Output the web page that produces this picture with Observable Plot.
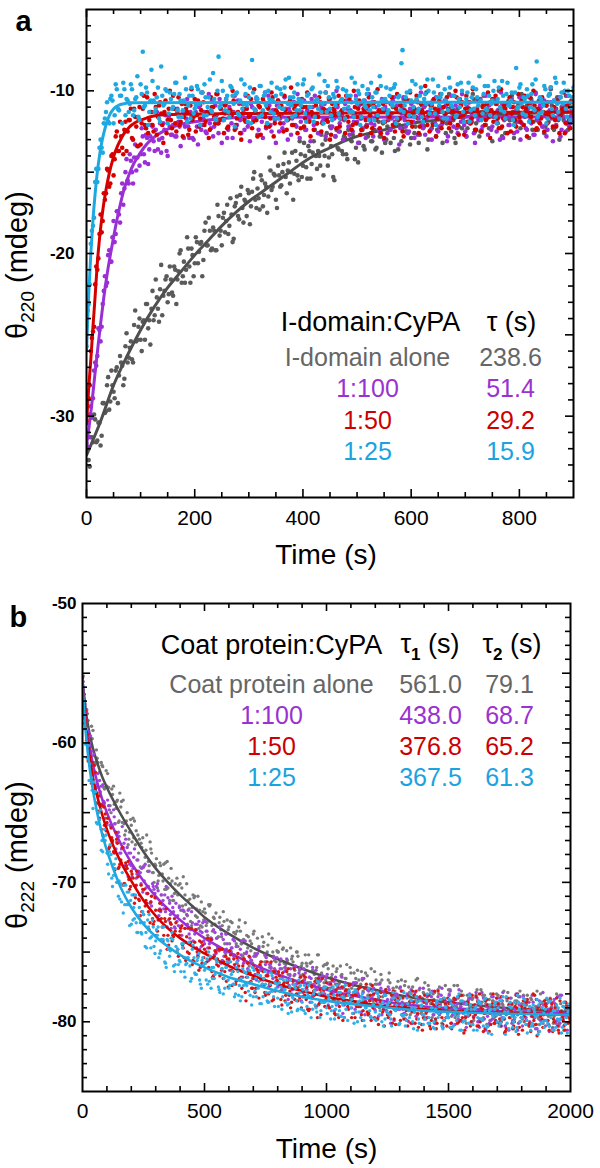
<!DOCTYPE html>
<html><head><meta charset="utf-8">
<script src="https://cdn.jsdelivr.net/npm/d3@7"></script>
<script src="https://cdn.jsdelivr.net/npm/@observablehq/plot@0.6"></script>
<style>
body{margin:0;background:#fff;}
#wrap{width:600px;height:1168px;overflow:hidden;}
#wrap svg{display:block;}
</style></head><body><div id="wrap"></div>
<script>
// ---------- Panel a data (time in s, theta220 in mdeg) ----------
const tA = [0,4,8,12,16,20,24,28,32,36,40,44,48,52,56,60,64,68,72,76,80,84,88,92,96,100,104,108,112,116,
120,124,128,132,136,140,144,148,152,156,160,164,168,172,176,180,184,188,192,196,200,204,208,212,216,220,224,228,232,236,
240,244,248,252,256,260,264,268,272,276,280,284,288,292,296,300,304,308,312,316,320,324,328,332,336,340,344,348,352,356,
360,364,368,372,376,380,384,388,392,396,400,404,408,412,416,420,424,428,432,436,440,444,448,452,456,460,464,468,472,476,
480,484,488,492,496,500,504,508,512,516,520,524,528,532,536,540,544,548,552,556,560,564,568,572,576,580,584,588,592,596,
600,604,608,612,616,620,624,628,632,636,640,644,648,652,656,660,664,668,672,676,680,684,688,692,696,700,704,708,712,716,
720,724,728,732,736,740,744,748,752,756,760,764,768,772,776,780,784,788,792,796,800,804,808,812,816,820,824,828,832,836,
840,844,848,852,856,860,864,868,872,876,880,884,888,892,896,900];
const tA2 = [2,6,10,14,18,22,26,30,34,38,42,46,50,54,58,62,66,70,74,78,82,86,90,94,98,102,106,110,114,118,
122,126,130,134,138,142,146,150,154,158,162,166,170,174,178,182,186,190,194,198,202,206,210,214,218,222,226,230,234,238,
242,246,250,254,258,262,266,270,274,278,282,286,290,294,298,302,306,310,314,318,322,326,330,334,338,342,346,350,354,358,
362,366,370,374,378,382,386,390,394,398,402,406,410,414,418,422,426,430,434,438,442,446,450,454,458,462,466,470,474,478,
482,486,490,494,498,502,506,510,514,518,522,526,530,534,538,542,546,550,554,558,562,566,570,574,578,582,586,590,594,598,
602,606,610,614,618,622,626,630,634,638,642,646,650,654,658,662,666,670,674,678,682,686,690,694,698,702,706,710,714,718,
722,726,730,734,738,742,746,750,754,758,762,766,770,774,778,782,786,790,794,798,802,806,810,814,818,822,826,830,834,838,
842,846,850,854,858,862,866,870,874,878,882,886,890,894,898];
const grayA = [-32.1,-32.7,-31.3,-31.6,-30.2,-31.5,-30.4,-31.2,-29.2,-29.7,-27.6,-29.1,-28.1,-28.9,-27.0,-27.5,-26.7,-28.1,-25.7,-26.7,
-25.8,-26.5,-24.4,-25.4,-24.5,-25.3,-24.2,-25.3,-23.1,-24.1,-23.4,-24.1,-21.6,-23.4,-22.2,-23.8,-22.3,-21.4,-22.5,-21.6,
-22.6,-21.0,-21.6,-20.0,-21.8,-20.5,-21.0,-19.7,-21.8,-20.1,-20.6,-19.3,-19.9,-19.3,-20.4,-18.1,-19.5,-18.6,-19.7,-18.6,
-19.8,-17.7,-18.6,-17.8,-18.7,-17.0,-18.3,-17.6,-19.1,-16.9,-17.7,-16.4,-17.2,-16.7,-17.7,-16.3,-17.1,-15.4,-16.7,-16.0,
-17.3,-15.5,-16.4,-15.9,-16.5,-14.9,-15.9,-15.2,-17.2,-15.2,-15.8,-14.5,-15.3,-14.9,-15.7,-13.8,-15.1,-14.3,-15.5,-13.9,
-14.6,-14.0,-15.4,-13.7,-14.5,-13.1,-14.0,-13.7,-14.6,-13.3,-14.0,-12.6,-14.1,-13.4,-15.3,-12.8,-13.5,-12.5,-13.7,-12.8,
-13.9,-12.4,-13.0,-12.7,-14.2,-12.0,-13.2,-12.4,-13.4,-12.2,-12.8,-11.5,-13.1,-12.4,-13.5,-11.9,-12.8,-12.0,-13.2,-12.2,
-12.4,-11.4,-12.9,-11.9,-13.6,-11.7,-12.3,-11.4,-12.5,-11.9,-12.9,-11.4,-12.2,-11.7,-12.7,-10.9,-12.2,-11.7,-13.0,-11.4,
-12.0,-11.4,-12.4,-11.0,-12.1,-11.7,-12.6,-11.1,-11.9,-11.4,-12.9,-11.3,-12.2,-10.7,-11.7,-11.4,-12.3,-11.1,-11.9,-10.5,
-12.0,-11.5,-12.5,-10.9,-11.7,-11.1,-12.3,-11.2,-11.6,-10.8,-12.0,-11.3,-12.8,-11.0,-11.7,-10.6,-11.8,-11.3,-12.0,-11.0,
-11.7,-10.2,-12.1,-11.2,-11.5,-10.9,-12.4,-11.1,-11.8,-10.6,-11.6,-11.3,-12.2,-10.7,-11.6,-10.9,-12.4,-11.1,-11.8,-10.4,
-11.4,-11.0,-12.0,-10.8,-11.5,-10.0];
const grayA2 = [-31.3,-33.1,-31.3,-29.9,-31.6,-30.4,-31.8,-29.2,-29.8,-28.1,-29.6,-27.2,-28.5,-27.2,-29.2,-26.3,-26.9,-27.7,-24.9,-26.4,
-25.4,-26.7,-23.5,-25.3,-24.0,-26.0,-24.1,-23.1,-24.6,-25.6,-22.3,-23.8,-22.7,-24.2,-20.7,-22.6,-21.6,-23.0,-20.8,-22.4,
-20.8,-23.1,-21.1,-19.8,-21.4,-21.8,-19.0,-20.8,-19.7,-21.4,-19.0,-20.6,-19.4,-21.4,-18.6,-19.5,-17.8,-19.8,-18.4,-19.8,
-17.0,-18.9,-19.5,-17.5,-18.0,-18.8,-16.6,-19.3,-17.1,-16.5,-17.9,-15.9,-18.1,-16.8,-16.1,-18.2,-16.2,-15.0,-17.2,-16.6,
-15.2,-17.1,-15.7,-17.5,-14.1,-16.1,-15.1,-16.7,-14.6,-15.9,-15.0,-13.8,-16.3,-14.4,-15.0,-16.7,-13.7,-15.2,-13.1,-15.3,
-13.2,-14.7,-13.4,-15.4,-13.8,-12.4,-14.8,-14.0,-12.7,-15.2,-13.0,-14.6,-12.2,-13.9,-15.5,-12.4,-13.6,-11.7,-13.9,-12.9,
-14.2,-12.2,-13.1,-11.5,-13.5,-14.4,-11.7,-12.4,-13.6,-12.1,-10.9,-13.1,-12.4,-13.6,-11.6,-12.8,-13.8,-11.2,-13.0,-11.8,
-13.2,-11.0,-13.7,-11.8,-12.1,-13.1,-10.5,-12.5,-11.3,-13.3,-11.3,-12.6,-10.6,-13.2,-11.6,-12.1,-10.9,-13.6,-11.4,-12.3,
-10.6,-12.8,-11.6,-11.0,-13.2,-11.4,-12.0,-10.2,-12.5,-11.8,-13.2,-11.1,-10.5,-12.3,-11.3,-12.8,-10.7,-11.8,-10.2,-12.5,
-11.1,-12.8,-11.3,-10.3,-12.1,-11.6,-10.7,-13.1,-10.5,-11.9,-10.0,-12.3,-11.2,-12.6,-10.8,-11.8,-10.3,-12.9,-11.3,-10.8,
-12.3,-10.3,-11.6,-10.9,-12.9,-10.5,-11.9,-10.1,-12.4,-11.2,-10.6,-12.6,-10.9,-11.9,-9.9,-12.3,-11.2,-10.4,-13.0,-11.0,
-11.8,-10.3,-12.4,-10.7,-11.6];
const purpleA = [-31.7,-31.3,-29.4,-28.9,-26.7,-26.3,-24.7,-24.5,-22.3,-22.0,-20.1,-20.5,-19.0,-19.3,-17.4,-17.6,-16.3,-17.0,-15.0,-15.5,
-13.9,-15.0,-14.1,-14.9,-13.4,-13.9,-12.8,-14.4,-12.9,-13.6,-12.1,-13.1,-12.4,-13.6,-12.0,-12.9,-12.4,-13.7,-11.6,-12.7,
-12.1,-12.8,-11.1,-12.2,-11.6,-12.9,-11.7,-12.2,-11.3,-12.9,-11.5,-12.2,-11.0,-12.4,-11.7,-12.5,-11.3,-12.0,-10.6,-12.2,
-11.5,-12.6,-11.1,-11.8,-11.4,-12.9,-11.0,-12.0,-11.3,-12.3,-10.6,-11.8,-11.5,-12.4,-11.1,-12.0,-10.8,-11.7,-11.3,-12.7,
-11.0,-11.9,-11.4,-12.3,-10.3,-12.1,-11.2,-11.8,-10.9,-12.5,-11.5,-12.0,-11.1,-13.0,-11.3,-11.7,-10.7,-12.2,-11.4,-11.9,
-11.0,-12.4,-11.2,-11.8,-10.5,-12.1,-11.5,-12.6,-11.1,-11.9,-10.8,-11.7,-11.3,-12.3,-11.4,-12.8,-11.0,-12.0,-11.5,-11.8,
-10.6,-12.2,-11.2,-12.5,-11.4,-11.9,-10.9,-11.7,-11.3,-12.9,-11.1,-11.8,-10.7,-12.1,-11.5,-12.4,-11.2,-11.9,-11.0,-12.6,
-11.4,-11.7,-10.4,-12.0,-11.3,-12.3,-11.1,-11.8,-11.5,-12.5,-10.8,-11.9,-11.2,-12.7,-11.4,-12.1,-11.0,-11.7,-11.3,-12.4,
-10.6,-12.0,-11.5,-12.2,-11.1,-11.8,-10.9,-12.8,-11.3,-11.7,-11.2,-12.3,-10.7,-11.9,-11.4,-12.5,-11.0,-12.0,-11.5,-12.6,
-11.1,-11.8,-10.5,-12.2,-11.3,-11.7,-10.9,-12.4,-11.4,-11.9,-11.2,-13.0,-10.8,-11.8,-11.5,-12.1,-11.0,-11.7,-11.3,-12.5,
-10.4,-12.0,-11.4,-12.3,-11.1,-11.8,-10.7,-12.7,-11.3,-11.9,-11.0,-12.2,-11.5,-12.4,-11.2,-11.7,-10.6,-12.1,-11.4,-12.8,
-10.9,-11.9,-11.3,-12.2,-11.1,-11.8];
const purpleA2 = [-31.9,-29.9,-30.1,-27.2,-26.9,-24.6,-25.4,-23.1,-21.4,-21.8,-19.8,-20.5,-18.0,-18.8,-17.4,-18.1,-15.7,-16.0,-14.2,-15.7,
-14.3,-15.7,-13.3,-14.1,-14.6,-12.3,-13.9,-12.7,-14.5,-12.8,-12.2,-13.7,-11.3,-13.0,-13.8,-12.0,-11.5,-14.0,-12.2,-12.7,
-11.1,-12.8,-11.9,-13.4,-11.3,-12.2,-10.5,-12.9,-11.6,-13.0,-11.3,-13.3,-10.9,-12.1,-11.3,-12.6,-10.2,-12.3,-12.8,-10.9,
-12.0,-10.5,-13.2,-11.3,-10.8,-12.4,-11.6,-12.9,-10.3,-12.1,-10.8,-12.6,-11.3,-10.3,-12.2,-13.1,-11.0,-11.8,-10.5,-12.4,
-11.4,-12.9,-10.1,-12.0,-10.9,-12.5,-11.2,-13.2,-10.6,-11.7,-12.3,-10.4,-11.8,-11.1,-12.7,-10.7,-12.1,-10.2,-12.9,-11.3,
-10.6,-12.4,-11.5,-13.1,-11.0,-10.3,-12.0,-12.6,-10.9,-11.8,-12.8,-11.2,-10.5,-12.2,-11.7,-10.0,-12.5,-11.3,-13.0,-10.8,
-11.1,-12.7,-10.7,-11.9,-10.3,-13.2,-11.4,-12.3,-10.6,-12.1,-10.2,-12.0,-12.8,-11.0,-11.5,-12.5,-10.5,-13.0,-11.2,-11.7,
-12.4,-10.6,-11.9,-10.9,-13.3,-11.4,-10.4,-12.2,-12.6,-11.1,-10.7,-12.9,-11.2,-11.7,-10.1,-12.3,-12.7,-11.3,-10.8,-13.0,
-11.5,-10.4,-12.5,-11.1,-12.0,-10.6,-13.1,-11.8,-10.3,-12.2,-10.9,-12.6,-11.4,-10.2,-12.1,-12.8,-10.7,-11.9,-11.2,-13.2,
-10.5,-11.8,-12.4,-11.0,-10.3,-12.7,-11.5,-12.2,-10.6,-12.5,-11.3,-10.1,-12.9,-11.7,-10.8,-12.1,-10.5,-12.6,-11.2,-11.9,
-13.0,-11.0,-11.4,-12.4,-10.4,-12.0,-12.7,-10.2,-11.8,-10.9,-12.2,-10.6,-12.8,-11.3,-10.7,-13.1,-11.1,-11.7,-10.4,-12.4,
-11.2,-12.5,-10.3,-12.0,-11.4];
const redA = [-30.3,-28.9,-26.0,-24.8,-21.9,-21.0,-18.8,-18.7,-16.3,-16.3,-14.9,-15.7,-13.9,-14.2,-12.5,-13.7,-12.8,-13.9,-11.9,-12.5,
-11.8,-12.9,-11.1,-12.2,-11.7,-13.3,-11.1,-12.1,-10.4,-11.8,-11.3,-12.5,-11.0,-11.6,-10.7,-12.1,-11.3,-12.6,-11.1,-11.8,
-10.3,-12.0,-11.3,-12.1,-10.8,-11.6,-11.1,-12.7,-10.9,-11.8,-10.5,-11.5,-12.2,-11.2,-10.7,-11.9,-11.3,-12.4,-11.0,-11.6,
-10.2,-12.0,-11.1,-11.7,-10.9,-12.3,-11.2,-11.5,-10.6,-12.1,-11.3,-12.6,-10.8,-11.8,-11.1,-11.6,-10.5,-11.9,-11.2,-12.8,
-11.0,-11.5,-10.7,-12.2,-11.1,-11.7,-10.4,-12.0,-11.3,-11.6,-10.9,-12.5,-11.2,-11.8,-10.6,-12.1,-11.1,-11.5,-10.8,-12.3,
-11.0,-11.7,-10.1,-11.9,-11.3,-12.4,-10.9,-11.6,-10.7,-12.0,-11.2,-11.8,-10.5,-12.7,-11.1,-11.5,-10.8,-12.2,-11.2,-11.7,
-10.3,-11.9,-11.3,-12.1,-11.0,-11.6,-10.6,-12.4,-11.1,-11.8,-10.9,-11.5,-12.3,-10.7,-11.7,-11.2,-12.6,-10.8,-11.9,-11.3,
-11.6,-10.4,-12.1,-11.1,-11.8,-10.9,-12.5,-11.2,-11.5,-10.6,-11.9,-11.0,-11.6,-10.7,-12.2,-11.2,-11.8,-10.1,-11.5,-10.9,
-12.1,-11.1,-11.7,-10.6,-12.3,-11.0,-11.4,-10.8,-12.0,-11.2,-11.6,-10.4,-12.7,-10.9,-11.5,-11.1,-11.9,-10.7,-11.7,-11.2,
-12.4,-10.5,-11.5,-11.0,-12.1,-10.8,-11.6,-11.2,-11.9,-10.3,-11.7,-11.1,-12.2,-10.9,-11.4,-10.7,-12.5,-11.0,-11.8,-11.2,
-11.6,-10.6,-12.1,-11.1,-11.5,-10.4,-11.9,-10.9,-12.3,-11.2,-11.7,-10.8,-11.4,-12.0,-10.2,-11.6,-11.0,-12.2,-10.7,-11.5,
-11.1,-12.6,-10.9,-11.8,-10.6,-11.4];
const redA2 = [-28.9,-28.1,-25.2,-24.5,-20.8,-20.3,-17.6,-18.0,-16.7,-14.8,-15.9,-14.0,-15.2,-12.8,-13.7,-11.9,-13.5,-12.4,-13.7,-11.8,
-11.1,-13.0,-11.6,-13.4,-11.0,-12.0,-10.3,-12.3,-12.6,-11.3,-12.1,-10.2,-12.7,-10.9,-11.4,-13.2,-10.6,-11.8,-10.0,-12.3,
-11.1,-12.5,-10.4,-11.9,-12.8,-10.8,-11.3,-12.4,-9.9,-11.6,-12.5,-10.6,-11.7,-10.1,-12.1,-11.3,-12.9,-10.4,-11.0,-12.0,
-10.2,-11.8,-10.8,-12.6,-10.5,-12.2,-11.2,-10.0,-12.4,-11.7,-10.7,-13.0,-11.1,-11.9,-10.3,-11.5,-12.3,-9.9,-11.8,-10.9,
-12.7,-10.5,-11.6,-11.0,-12.2,-10.1,-12.8,-11.2,-10.6,-12.0,-11.1,-10.3,-12.4,-11.7,-9.8,-12.1,-10.9,-12.6,-11.3,-10.5,
-12.2,-11.0,-10.2,-12.8,-11.5,-10.7,-12.0,-10.4,-12.5,-11.1,-10.1,-11.9,-13.0,-10.8,-11.2,-12.3,-10.3,-11.7,-10.6,-12.6,
-11.6,-10.5,-12.4,-10.0,-12.0,-11.1,-12.7,-10.8,-11.3,-12.2,-10.4,-12.6,-10.9,-11.8,-9.9,-12.3,-11.2,-12.9,-10.7,-11.5,
-10.8,-12.1,-12.5,-10.2,-11.7,-10.9,-12.8,-10.5,-11.9,-10.1,-12.2,-11.1,-10.3,-12.6,-10.8,-11.5,-9.7,-12.1,-12.5,-10.9,
-10.5,-12.8,-11.2,-10.2,-11.9,-11.4,-10.4,-12.3,-11.0,-11.7,-10.0,-12.1,-11.6,-10.7,-12.7,-10.3,-11.1,-12.0,-9.9,-12.4,
-11.2,-10.6,-12.5,-10.9,-11.8,-10.1,-12.9,-10.5,-11.5,-10.8,-12.3,-9.9,-11.7,-11.1,-12.6,-10.4,-11.4,-10.7,-12.2,-10.2,
-11.9,-11.0,-10.3,-12.8,-10.8,-11.6,-10.0,-12.4,-11.1,-12.0,-10.4,-12.5,-10.9,-11.5,-9.8,-12.2,-11.8,-10.6,-12.6,-11.2,
-10.1,-12.0,-11.0,-12.3,-10.7];
const cyanA = [-25.7,-23.1,-19.4,-18.3,-15.6,-15.6,-13.5,-13.5,-12.0,-11.3,-11.9,-10.5,-10.6,-11.5,-9.9,-11.2,-10.3,-9.5,-11.5,-10.6,
-10.8,-9.9,-11.2,-10.4,-11.6,-9.6,-7.6,-10.9,-10.1,-11.3,-8.7,-10.6,-11.1,-9.8,-11.9,-10.3,-10.8,-10.0,-11.4,-10.5,
-11.0,-9.5,-11.2,-10.2,-11.6,-10.6,-9.9,-10.9,-11.7,-10.3,-11.1,-9.7,-10.8,-10.1,-11.5,-10.4,-11.0,-9.3,-11.3,-10.5,
-11.8,-7.9,-10.9,-10.0,-11.2,-10.3,-11.6,-9.8,-10.8,-10.2,-11.4,-10.6,-11.1,-9.6,-10.9,-10.4,-12.0,-10.1,-11.2,-10.5,
-9.7,-11.5,-10.3,-10.9,-10.0,-11.3,-10.6,-11.7,-9.8,-11.0,-10.2,-11.1,-9.3,-10.8,-10.4,-11.6,-10.1,-11.2,-10.5,-10.9,
-9.6,-11.4,-10.3,-11.0,-9.9,-11.9,-10.6,-11.1,-10.1,-10.8,-9.4,-11.3,-10.4,-11.5,-10.2,-10.9,-9.8,-11.7,-10.5,-11.1,
-10.0,-11.0,-10.3,-11.3,-9.5,-10.8,-10.2,-11.6,-10.6,-11.0,-9.9,-11.2,-10.4,-11.8,-10.1,-10.9,-9.7,-11.1,-10.5,-11.4,
-10.3,-10.8,-9.8,-12.0,-10.4,-11.2,-7.5,-10.9,-10.1,-11.5,-10.6,-11.0,-9.6,-11.3,-10.3,-11.6,-10.5,-10.8,-10.0,-11.1,
-9.3,-11.4,-10.4,-10.9,-10.2,-11.7,-10.6,-11.2,-9.8,-11.0,-10.3,-11.5,-10.5,-9.5,-11.3,-10.8,-10.1,-11.9,-10.4,-11.1,
-9.9,-10.9,-10.6,-11.4,-9.7,-11.2,-10.3,-10.8,-10.0,-11.6,-10.5,-11.0,-9.4,-11.3,-10.2,-10.9,-10.6,-11.8,-10.1,-11.1,
-9.8,-10.8,-10.4,-11.5,-10.3,-11.0,-9.6,-11.2,-8.2,-11.4,-10.5,-10.9,-9.9,-11.7,-10.2,-11.1,-10.6,-9.5,-11.3,-10.4,
-10.8,-10.0,-11.6,-10.3,-11.0,-9.8];
const cyanA2 = [-23.5,-21.9,-18.6,-17.8,-14.8,-14.8,-13.0,-13.8,-11.7,-10.7,-12.0,-10.3,-12.0,-9.6,-11.1,-10.3,-12.0,-9.9,-10.5,-11.3,
-9.6,-11.5,-10.5,-9.1,-11.8,-10.2,-11.0,-9.8,-12.1,-10.6,-9.4,-11.3,-10.4,-11.7,-8.5,-10.9,-9.9,-12.0,-10.1,-11.1,
-10.2,-9.5,-11.6,-10.6,-11.2,-9.2,-11.9,-10.3,-9.8,-11.4,-10.9,-9.9,-12.1,-10.1,-9.6,-11.5,-10.4,-11.2,-8.9,-11.7,
-10.0,-11.0,-9.4,-11.8,-10.5,-11.3,-9.7,-10.3,-12.2,-10.1,-11.5,-9.3,-10.8,-10.2,-11.9,-9.8,-8.1,-11.1,-10.4,-11.6,
-9.7,-11.2,-10.1,-12.0,-10.5,-9.5,-11.4,-10.3,-11.7,-9.9,-11.1,-9.8,-11.8,-9.2,-10.9,-10.4,-11.5,-9.6,-11.2,-10.6,
-9.3,-11.9,-10.2,-11.0,-9.8,-11.6,-10.5,-9.0,-11.3,-12.0,-10.1,-9.7,-11.1,-11.8,-10.4,-9.4,-11.4,-10.6,-9.9,-11.7,
-10.3,-11.3,-9.2,-11.6,-10.5,-10.0,-12.1,-9.7,-10.9,-10.2,-11.8,-9.5,-11.0,-10.1,-11.5,-9.1,-10.6,-11.9,-9.8,-11.2,
-9.9,-10.9,-9.6,-11.7,-10.3,-8.3,-11.3,-10.4,-12.0,-10.0,-9.4,-11.6,-10.5,-11.1,-9.8,-11.9,-10.2,-9.3,-11.4,-10.8,
-10.1,-12.1,-9.7,-10.4,-11.3,-9.9,-11.7,-9.2,-10.9,-10.3,-11.6,-9.6,-11.0,-10.0,-11.9,-10.5,-9.5,-11.2,-9.8,-11.5,
-10.4,-9.1,-11.8,-10.2,-11.1,-9.7,-11.5,-10.6,-9.4,-12.0,-9.8,-11.2,-10.3,-11.7,-9.5,-10.9,-10.1,-12.1,-8.6,-11.0,
-9.6,-11.4,-10.5,-9.9,-11.9,-10.2,-11.1,-9.3,-11.6,-10.4,-11.3,-9.7,-12.0,-10.3,-9.8,-11.5,-9.2,-10.8,-11.7,-10.1,
-9.5,-11.1,-10.0,-11.8,-10.4];
// fitted curves, panel a
const grayFitAT = [0,25,50,75,100,125,150,175,200,225,250,275,300,325,350,375,400,425,450,475,500,550,600,650,700,750,800,850,900];
const grayFitAV = [-32.4,-30.4,-28.1,-26.3,-24.7,-23.3,-22.1,-21.1,-20.1,-19.2,-18.3,-17.5,-16.8,-16.2,-15.6,-15.0,-14.4,-13.9,-13.5,-13.1,-12.8,-12.4,-12.0,-11.8,-11.6,-11.5,-11.4,-11.35,-11.3];
const purpleFitAT = [0,5,10,15,20,25,32,38,44,50,57,63,69,78,87,96,106,118,131,150,175,200,250,300,900];
const purpleFitAV = [-31.8,-30.6,-29.2,-27.6,-26.1,-24.6,-22.7,-21.3,-20.1,-19.0,-17.8,-16.9,-16.1,-15.2,-14.5,-14.0,-13.5,-13.05,-12.7,-12.35,-12.05,-11.9,-11.7,-11.62,-11.6];
const redFitAT = [0,4,8,12,16,20,24,28,32,36,40,44,48,52,56,60,64,68,72,76,80,88,96,104,112,120,132,160,250,900];
const redFitAV = [-30.5,-28.3,-26.5,-24.5,-22.6,-20.6,-19.1,-17.9,-16.9,-16.1,-15.4,-14.8,-14.3,-13.85,-13.5,-13.2,-12.95,-12.7,-12.5,-12.35,-12.2,-12.0,-11.85,-11.75,-11.66,-11.58,-11.5,-11.45,-11.4,-11.3];
const cyanFitAT = [0,4,8,12,16,20,24,28,32,36,40,44,48,52,56,60,68,80,900];
const cyanFitAV = [-26.0,-22.6,-20.0,-17.9,-16.3,-15.0,-14.0,-13.2,-12.6,-12.1,-11.7,-11.4,-11.2,-11.05,-10.95,-10.88,-10.8,-10.73,-10.7];

// ---------- Panel b data (time in s, theta222 in mdeg) ----------
const tB = [0,10,20,30,40,50,60,70,80,90,100,110,120,130,140,150,160,170,180,190,200,210,220,230,240,250,260,270,280,290,
300,310,320,330,340,350,360,370,380,390,400,410,420,430,440,450,460,470,480,490,500,510,520,530,540,550,560,570,580,590,
600,610,620,630,640,650,660,670,680,690,700,710,720,730,740,750,760,770,780,790,800,810,820,830,840,850,860,870,880,890,
900,910,920,930,940,950,960,970,980,990,1000,1010,1020,1030,1040,1050,1060,1070,1080,1090,1100,1110,1120,1130,1140,1150,1160,1170,1180,1190,
1200,1210,1220,1230,1240,1250,1260,1270,1280,1290,1300,1310,1320,1330,1340,1350,1360,1370,1380,1390,1400,1410,1420,1430,1440,1450,1460,1470,1480,1490,
1500,1510,1520,1530,1540,1550,1560,1570,1580,1590,1600,1610,1620,1630,1640,1650,1660,1670,1680,1690,1700,1710,1720,1730,1740,1750,1760,1770,1780,1790,
1800,1810,1820,1830,1840,1850,1860,1870,1880,1890,1900,1910,1920,1930,1940,1950,1960,1970,1980,1990,2000];
const tB2 = [3,13,23,33,43,53,63,73,83,93,103,113,123,133,143,153,163,173,183,193,203,213,223,233,243,253,263,273,283,293,
303,313,323,333,343,353,363,373,383,393,403,413,423,433,443,453,463,473,483,493,503,513,523,533,543,553,563,573,583,593,
603,613,623,633,643,653,663,673,683,693,703,713,723,733,743,753,763,773,783,793,803,813,823,833,843,853,863,873,883,893,
903,913,923,933,943,953,963,973,983,993,1003,1013,1023,1033,1043,1053,1063,1073,1083,1093,1103,1113,1123,1133,1143,1153,1163,1173,1183,1193,
1203,1213,1223,1233,1243,1253,1263,1273,1283,1293,1303,1313,1323,1333,1343,1353,1363,1373,1383,1393,1403,1413,1423,1433,1443,1453,1463,1473,1483,1493,
1503,1513,1523,1533,1543,1553,1563,1573,1583,1593,1603,1613,1623,1633,1643,1653,1663,1673,1683,1693,1703,1713,1723,1733,1743,1753,1763,1773,1783,1793,
1803,1813,1823,1833,1843,1853,1863,1873,1883,1893,1903,1913,1923,1933,1943,1953,1963,1973,1983,1993];
const tB3 = [7,17,27,37,47,57,67,77,87,97,107,117,127,137,147,157,167,177,187,197,207,217,227,237,247,257,267,277,287,297,
307,317,327,337,347,357,367,377,387,397,407,417,427,437,447,457,467,477,487,497,507,517,527,537,547,557,567,577,587,597,
607,617,627,637,647,657,667,677,687,697,707,717,727,737,747,757,767,777,787,797,807,817,827,837,847,857,867,877,887,897,
907,917,927,937,947,957,967,977,987,997,1007,1017,1027,1037,1047,1057,1067,1077,1087,1097,1107,1117,1127,1137,1147,1157,1167,1177,1187,1197,
1207,1217,1227,1237,1247,1257,1267,1277,1287,1297,1307,1317,1327,1337,1347,1357,1367,1377,1387,1397,1407,1417,1427,1437,1447,1457,1467,1477,1487,1497,
1507,1517,1527,1537,1547,1557,1567,1577,1587,1597,1607,1617,1627,1637,1647,1657,1667,1677,1687,1697,1707,1717,1727,1737,1747,1757,1767,1777,1787,1797,
1807,1817,1827,1837,1847,1857,1867,1877,1887,1897,1907,1917,1927,1937,1947,1957,1967,1977,1987,1997];
const grayB = [-55.4,-57.6,-57.9,-59.7,-59.7,-61.4,-61.1,-62.1,-61.6,-63.3,-63.1,-64.5,-63.3,-64.4,-64.2,-65.6,-64.2,-65.8,-65.6,-66.9,
-65.9,-66.8,-66.3,-67.9,-67.2,-68.9,-67.7,-68.5,-67.6,-69.3,-68.8,-69.9,-68.8,-69.9,-68.6,-70.4,-70.1,-71.3,-70.1,-70.9,
-70.1,-71.7,-70.9,-72.4,-71.2,-71.8,-71.0,-72.5,-72.0,-73.2,-71.9,-72.9,-71.7,-73.1,-72.6,-74.0,-72.9,-73.9,-72.8,-73.7,
-73.2,-75.0,-73.6,-74.4,-73.2,-74.4,-74.1,-75.1,-73.9,-74.9,-73.7,-75.3,-74.8,-75.7,-74.6,-75.3,-74.5,-75.9,-75.0,-76.4,
-75.0,-75.7,-74.8,-76.1,-75.6,-76.6,-75.3,-76.3,-75.0,-76.3,-75.8,-77.2,-76.0,-76.8,-75.7,-76.6,-76.1,-77.4,-76.5,-77.2,
-75.9,-77.2,-76.8,-77.7,-76.4,-77.3,-76.7,-78.2,-76.9,-77.7,-76.5,-77.4,-76.9,-78.0,-77.3,-77.8,-76.5,-78.1,-77.3,-78.5,
-77.3,-77.9,-77.2,-78.2,-77.8,-78.8,-77.2,-78.3,-77.8,-78.7,-77.6,-78.2,-77.4,-78.7,-77.9,-79.0,-78.1,-78.6,-77.7,-79.3,
-78.0,-78.6,-77.7,-79.0,-78.4,-79.3,-78.0,-78.6,-78.3,-79.2,-77.7,-79.0,-78.4,-79.4,-78.3,-78.9,-78.1,-79.6,-78.5,-78.9,
-78.3,-79.4,-78.6,-79.2,-78.1,-79.4,-78.8,-79.9,-78.5,-79.1,-78.3,-79.4,-78.7,-79.8,-78.5,-79.1,-78.8,-79.8,-78.5,-79.4,
-78.7,-80.0,-78.8,-79.3,-78.4,-79.7,-79.1,-79.8,-78.7,-79.4,-78.4,-79.6,-79.0,-80.1,-78.9,-79.4,-78.7,-79.8,-79.1,-79.6,-78.9];
const grayB2 = [-55.2,-58.8,-58.4,-60.3,-59.1,-61.5,-61.4,-63.5,-61.7,-63.2,-62.2,-64.5,-63.7,-65.8,-64.1,-63.6,-65.7,-66.6,-65.0,-66.4,
-67.1,-65.6,-68.4,-66.9,-67.5,-68.8,-66.6,-68.8,-67.9,-70.0,-68.3,-69.5,-70.9,-68.7,-70.5,-69.7,-69.0,-71.3,-70.7,-70.2,
-72.0,-69.6,-71.6,-71.3,-72.8,-70.9,-72.4,-71.0,-73.1,-72.1,-72.2,-73.8,-71.6,-73.5,-73.0,-74.6,-72.5,-73.1,-74.4,-72.7,
-74.4,-72.9,-75.2,-73.5,-72.7,-74.4,-75.1,-73.8,-76.0,-74.4,-73.5,-75.2,-74.6,-76.1,-74.3,-75.7,-73.7,-76.2,-75.3,-75.7,
-75.0,-76.9,-74.7,-75.9,-76.6,-74.7,-75.7,-77.5,-75.3,-76.7,-76.6,-75.2,-77.2,-75.8,-76.3,-77.7,-75.2,-77.1,-76.8,-75.9,
-75.8,-77.6,-76.6,-78.4,-76.2,-77.2,-76.6,-78.2,-75.9,-77.9,-77.6,-76.5,-78.6,-77.0,-76.4,-78.3,-77.5,-78.1,-76.2,-78.7,
-77.0,-78.3,-76.6,-78.9,-77.7,-77.0,-79.4,-77.6,-78.2,-77.1,-79.0,-77.8,-77.1,-78.8,-79.5,-77.5,-78.5,-76.9,-79.1,-78.3,
-77.2,-79.2,-78.1,-79.7,-77.9,-78.8,-77.5,-80.1,-78.4,-79.0,-78.0,-79.6,-77.4,-78.9,-79.4,-77.8,-78.6,-80.1,-78.3,-79.3,
-79.9,-78.1,-79.1,-77.7,-79.7,-78.7,-80.3,-78.0,-78.5,-79.6,-78.1,-79.5,-78.8,-80.3,-77.9,-79.1,-80.0,-78.5,-79.5,-77.8,
-79.8,-78.7,-78.1,-80.3,-79.0,-79.7,-77.8,-80.2,-78.6,-79.4,-78.4,-80.3,-78.9,-79.6,-78.0,-80.1,-79.2,-80.6,-78.7,-79.5];
const grayB3 = [-57.5,-57.6,-60.2,-58.8,-60.9,-60.5,-63.2,-61.4,-63.2,-62.0,-63.2,-65.0,-63.1,-64.7,-65.7,-64.6,-64.1,-66.3,-67.3,-65.5,
-65.4,-67.3,-66.6,-68.9,-66.8,-68.2,-69.2,-67.1,-69.3,-68.7,-70.4,-68.6,-69.4,-70.5,-68.5,-71.3,-69.9,-70.8,-69.7,-71.7,
-70.4,-72.1,-70.1,-71.9,-73.1,-71.1,-71.9,-73.3,-71.4,-72.7,-73.1,-71.6,-74.0,-72.5,-72.2,-73.9,-73.4,-72.1,-75.1,-73.4,
-72.8,-75.2,-73.7,-74.6,-73.5,-75.3,-72.9,-74.7,-74.2,-75.8,-75.1,-74.0,-76.3,-73.9,-75.7,-75.0,-76.1,-74.0,-75.6,-74.9,
-74.3,-76.2,-75.8,-74.9,-77.0,-75.5,-76.7,-75.0,-77.5,-76.0,-77.0,-75.8,-75.2,-77.4,-76.4,-76.9,-75.2,-78.0,-76.0,-77.0,
-76.2,-78.0,-76.0,-77.3,-78.5,-76.0,-77.6,-76.9,-78.1,-76.1,-78.3,-77.2,-76.3,-78.2,-77.0,-78.8,-76.7,-77.7,-78.3,-76.4,
-77.3,-79.0,-77.0,-77.8,-78.8,-76.5,-78.4,-79.1,-77.5,-78.4,-77.0,-78.7,-79.5,-77.5,-78.0,-79.1,-77.0,-78.5,-79.4,-77.9,
-79.0,-77.4,-78.7,-78.0,-79.9,-77.7,-79.2,-78.4,-77.4,-79.7,-77.7,-78.9,-79.7,-77.4,-79.2,-78.6,-79.9,-78.1,-78.9,-78.4,
-79.2,-77.7,-79.8,-78.6,-78.1,-80.2,-78.4,-79.1,-79.7,-78.0,-78.8,-80.0,-77.8,-79.5,-79.1,-78.3,-80.5,-78.7,-78.2,-79.7,
-78.1,-79.7,-79.3,-78.3,-80.3,-78.9,-79.7,-78.0,-80.1,-79.1,-79.5,-78.3,-80.4,-78.7,-79.9,-78.1,-79.4,-80.2,-78.9,-79.8];
const purpleB = [-55.7,-57.2,-59.7,-60.0,-61.9,-61.6,-63.0,-62.7,-64.4,-64.3,-65.8,-64.8,-65.9,-65.3,-67.1,-66.7,-67.6,-67.2,-69.0,-67.9,
-68.8,-68.2,-69.7,-69.2,-70.1,-68.9,-70.4,-70.3,-71.4,-70.3,-71.1,-70.6,-72.1,-71.3,-72.1,-71.1,-72.3,-71.8,-73.3,-72.4,
-73.2,-72.0,-73.3,-73.0,-74.0,-72.9,-73.7,-73.0,-74.8,-73.6,-74.4,-73.5,-74.4,-74.1,-75.2,-74.0,-74.9,-73.7,-75.3,-74.8,
-75.6,-74.7,-75.3,-74.6,-76.3,-75.2,-75.8,-75.1,-76.3,-75.6,-76.1,-75.2,-76.5,-76.0,-77.0,-75.9,-76.5,-75.8,-76.9,-76.3,
-77.5,-76.2,-76.8,-76.1,-77.1,-76.7,-77.7,-76.6,-77.2,-76.2,-77.7,-77.0,-77.7,-76.8,-78.2,-77.4,-77.7,-76.8,-78.1,-77.5,
-78.3,-77.3,-77.9,-77.1,-78.8,-77.6,-78.2,-77.5,-78.6,-77.9,-78.3,-77.2,-78.6,-78.1,-78.9,-77.9,-78.5,-77.7,-78.8,-78.1,
-79.2,-77.9,-78.6,-77.8,-78.8,-78.4,-79.5,-78.2,-78.8,-78.1,-79.1,-78.6,-79.4,-78.0,-79.0,-78.5,-79.3,-78.2,-79.0,-78.5,
-79.8,-78.7,-79.2,-78.2,-79.5,-78.9,-79.4,-78.1,-79.2,-78.7,-79.7,-78.5,-79.1,-78.4,-79.8,-78.9,-79.4,-78.7,-79.6,-78.3,
-79.3,-78.8,-80.0,-78.6,-79.2,-78.5,-79.6,-79.0,-79.8,-78.8,-79.5,-78.3,-79.7,-79.1,-79.4,-78.7,-80.1,-79.0,-79.4,-78.8,
-79.7,-79.1,-79.9,-78.6,-79.6,-79.2,-80.2,-78.9,-79.5,-78.8,-79.9,-79.1,-79.5,-78.6,-80.1,-79.2,-79.8,-78.9,-79.6,-79.1,-80.0];
const purpleB2 = [-55.6,-59.0,-59.2,-59.5,-62.2,-63.6,-62.2,-63.8,-63.0,-65.4,-64.1,-65.9,-67.1,-65.8,-66.5,-67.9,-66.0,-68.8,-67.5,-68.7,
-69.6,-67.6,-69.4,-70.9,-69.0,-69.9,-70.8,-69.2,-71.7,-70.5,-70.3,-72.4,-70.9,-71.9,-70.3,-72.7,-73.3,-72.1,-71.5,-73.1,
-73.2,-72.0,-74.3,-72.0,-73.4,-74.2,-73.0,-75.2,-73.5,-72.9,-72.8,-74.7,-74.0,-75.4,-73.6,-74.8,-73.2,-75.6,-75.0,-74.4,
-76.3,-74.7,-74.2,-75.8,-76.3,-74.2,-75.7,-75.0,-77.2,-75.6,-75.3,-77.0,-74.7,-76.3,-76.9,-75.4,-77.5,-76.1,-75.4,-77.1,
-76.5,-75.5,-77.5,-76.3,-78.4,-76.2,-77.3,-76.0,-78.0,-76.8,-77.9,-76.5,-77.4,-78.6,-76.1,-78.0,-77.1,-78.6,-76.7,-78.0,
-76.6,-78.3,-77.5,-79.2,-77.3,-78.1,-76.8,-78.8,-78.1,-77.4,-79.0,-77.9,-77.2,-78.8,-79.3,-76.9,-78.6,-77.8,-79.7,-77.6,
-77.9,-79.6,-77.6,-78.6,-79.2,-77.5,-80.1,-78.3,-78.1,-79.1,-77.5,-79.1,-79.8,-78.2,-78.6,-80.1,-77.9,-79.5,-77.6,-79.1,
-79.7,-78.2,-79.2,-77.8,-80.1,-78.6,-79.5,-77.6,-79.9,-78.9,-78.1,-80.1,-78.8,-79.5,-77.7,-79.9,-78.7,-80.4,-78.4,-79.3,
-79.6,-77.9,-80.0,-78.8,-78.3,-80.6,-79.1,-79.9,-78.2,-79.5,-78.8,-80.0,-77.9,-80.3,-79.4,-78.3,-79.9,-79.1,-80.6,-78.2,
-80.3,-78.7,-79.2,-80.0,-78.1,-79.7,-80.5,-78.5,-79.0,-79.9,-78.7,-80.7,-79.0,-78.4,-79.9,-80.3,-78.1,-79.5,-80.1,-78.9];
const purpleB3 = [-57.5,-57.7,-60.8,-60.6,-60.8,-63.2,-64.4,-63.1,-64.2,-65.9,-64.5,-66.0,-64.8,-67.6,-66.4,-67.9,-67.5,-66.9,-69.6,-67.9,
-69.0,-70.3,-68.4,-69.3,-70.7,-68.7,-70.8,-71.5,-70.1,-70.8,-70.1,-71.9,-71.6,-70.9,-73.2,-71.5,-71.0,-73.2,-72.8,-71.8,
-73.8,-72.6,-72.3,-73.7,-72.1,-74.7,-73.4,-72.8,-74.6,-74.2,-73.5,-75.6,-74.0,-73.4,-75.1,-74.7,-75.8,-74.1,-73.7,-75.8,
-74.9,-74.1,-76.1,-75.6,-74.8,-76.8,-74.2,-76.2,-75.4,-76.9,-76.6,-75.1,-76.0,-77.4,-75.2,-76.7,-75.9,-77.8,-76.2,-75.4,
-75.9,-77.7,-76.4,-75.5,-77.4,-78.0,-76.1,-77.3,-76.5,-78.5,-76.2,-77.6,-78.2,-76.9,-77.3,-76.3,-78.8,-77.0,-78.1,-76.8,
-78.8,-77.2,-78.0,-76.8,-78.7,-77.6,-79.4,-77.2,-77.9,-78.7,-77.3,-79.1,-77.9,-78.6,-76.9,-79.5,-77.7,-78.4,-77.4,-79.1,
-78.7,-77.3,-79.5,-78.0,-79.2,-77.7,-78.4,-79.9,-78.0,-78.8,-77.8,-79.4,-78.7,-80.0,-77.7,-79.1,-79.6,-78.3,-79.1,-77.6,
-79.8,-78.5,-77.9,-79.5,-80.1,-78.2,-78.8,-80.4,-78.5,-79.4,-77.8,-79.5,-80.2,-78.7,-78.1,-80.0,-78.6,-79.3,-78.0,-80.1,
-79.3,-78.3,-80.4,-77.9,-79.8,-78.9,-80.1,-78.2,-79.6,-78.6,-78.7,-80.3,-79.0,-78.3,-80.6,-78.7,-79.6,-78.0,-80.1,-79.4,
-78.2,-79.7,-80.2,-79.1,-78.6,-80.5,-78.9,-79.9,-77.9,-80.3,-79.9,-78.5,-80.5,-79.1,-78.2,-80.1,-79.6,-78.6,-80.6,-79.0];
const redB = [-55.3,-58.6,-59.4,-61.6,-61.4,-63.4,-63.6,-65.4,-64.5,-65.9,-65.7,-67.5,-66.8,-67.9,-66.9,-68.9,-68.6,-70.1,-68.8,-69.8,
-69.2,-70.9,-70.2,-71.2,-70.2,-72.3,-71.3,-72.1,-71.4,-73.0,-72.0,-72.7,-72.0,-74.2,-72.8,-73.8,-72.9,-73.8,-73.5,-74.8,
-73.5,-74.5,-73.3,-75.0,-74.4,-75.9,-74.3,-75.0,-74.2,-75.8,-74.8,-75.7,-74.7,-76.4,-75.3,-75.9,-74.8,-76.3,-75.7,-77.1,
-75.5,-76.3,-75.5,-77.1,-76.0,-76.8,-75.5,-78.5,-76.4,-77.1,-76.0,-77.6,-76.5,-77.0,-76.4,-78.1,-76.7,-77.4,-76.4,-77.8,
-77.1,-77.8,-76.5,-78.5,-77.2,-77.8,-77.0,-78.4,-77.6,-78.3,-77.1,-78.1,-77.5,-79.1,-77.5,-78.1,-77.2,-78.7,-77.9,-78.6,
-77.2,-79.0,-78.0,-78.5,-77.7,-79.7,-78.0,-78.5,-77.7,-79.1,-78.3,-79.4,-78.1,-78.9,-77.5,-79.2,-78.6,-79.5,-78.1,-79.0,
-78.4,-79.8,-78.5,-79.3,-78.1,-79.5,-78.7,-80.1,-78.4,-79.0,-78.3,-79.5,-78.9,-79.9,-78.6,-79.3,-78.1,-79.8,-78.9,-80.2,
-78.6,-79.3,-78.5,-79.9,-78.8,-80.5,-78.8,-79.3,-78.4,-79.7,-79.0,-80.1,-78.6,-79.5,-78.2,-79.9,-79.2,-79.7,-78.6,-80.3,
-79.0,-79.5,-78.5,-80.0,-79.1,-80.5,-78.8,-79.4,-78.7,-80.1,-79.1,-79.8,-78.5,-80.8,-79.3,-79.7,-78.7,-80.0,-79.0,-80.4,
-78.9,-79.6,-78.6,-80.3,-79.2,-79.9,-78.4,-80.7,-79.1,-79.5,-78.9,-80.2,-79.1,-79.8,-78.8,-80.6,-79.3,-79.9,-78.6,-80.1,-79.4];
const redB2 = [-56.7,-57.7,-61.3,-61.0,-62.7,-62.1,-64.9,-64.4,-66.6,-65.1,-65.4,-67.4,-67.0,-69.1,-67.2,-68.7,-67.5,-70.1,-69.0,-70.5,
-69.4,-71.5,-69.2,-71.3,-72.1,-70.5,-71.5,-73.4,-71.0,-72.8,-73.8,-72.0,-72.6,-73.8,-71.9,-74.5,-73.0,-73.9,-72.9,-75.3,
-73.3,-74.7,-75.6,-73.3,-74.3,-75.6,-73.4,-75.3,-76.1,-74.5,-75.8,-74.0,-75.5,-76.8,-74.9,-75.5,-76.7,-74.8,-76.4,-75.5,
-74.9,-77.4,-75.9,-75.4,-76.9,-77.6,-75.5,-76.8,-75.3,-77.6,-76.9,-76.2,-78.3,-75.7,-77.4,-76.7,-78.0,-75.7,-78.4,-76.8,
-76.4,-78.4,-77.3,-78.1,-76.2,-79.0,-77.1,-77.5,-78.5,-76.8,-78.2,-76.8,-79.1,-77.2,-78.3,-77.1,-79.7,-77.7,-76.9,-78.9,
-77.6,-79.0,-77.0,-79.4,-78.1,-78.9,-77.5,-79.7,-78.1,-77.4,-79.7,-78.0,-78.9,-77.6,-79.5,-78.5,-77.3,-79.4,-79.9,-78.0,
-78.5,-80.2,-77.9,-79.1,-77.7,-79.7,-79.3,-77.8,-80.2,-78.3,-79.9,-78.3,-78.9,-80.3,-78.5,-77.8,-80.1,-79.4,-78.2,-80.6,
-78.1,-79.7,-80.3,-78.7,-77.8,-80.1,-79.0,-79.7,-78.4,-80.3,-78.7,-80.5,-78.3,-79.3,-80.0,-78.1,-80.8,-78.7,-79.1,-80.0,
-79.7,-78.2,-80.3,-79.0,-80.7,-78.5,-79.2,-80.2,-78.0,-79.9,-78.7,-80.3,-79.2,-80.7,-78.3,-79.7,-80.5,-78.9,-78.0,-80.0,
-80.6,-79.0,-78.4,-80.1,-79.6,-78.1,-81.0,-78.8,-79.8,-78.5,-79.2,-80.6,-78.7,-80.0,-78.3,-80.8,-79.4,-80.3,-78.9,-79.7];
const redB3 = [-56.5,-59.8,-60.4,-62.9,-61.6,-64.3,-63.8,-66.2,-64.6,-66.3,-67.6,-66.1,-67.8,-66.4,-69.0,-68.4,-70.2,-68.6,-68.5,-70.3,
-69.7,-71.1,-69.6,-72.4,-70.5,-71.7,-70.8,-72.9,-72.6,-71.1,-73.5,-71.5,-73.2,-72.6,-74.8,-72.6,-74.2,-72.6,-75.0,-73.8,
-73.1,-75.4,-73.9,-75.1,-73.3,-75.7,-74.7,-76.3,-74.3,-75.4,-75.0,-76.1,-74.1,-76.7,-75.0,-76.0,-74.8,-76.9,-75.3,-77.5,
-75.2,-76.4,-77.3,-75.1,-77.0,-76.0,-77.9,-75.8,-76.5,-77.6,-77.9,-76.3,-75.9,-77.3,-77.9,-75.7,-77.3,-78.5,-76.4,-77.0,
-76.7,-78.8,-77.2,-76.4,-78.1,-78.6,-76.2,-78.0,-77.2,-79.0,-76.7,-78.4,-79.2,-77.4,-77.8,-78.9,-76.9,-79.5,-77.8,-78.4,
-78.9,-77.3,-78.4,-79.5,-77.5,-78.1,-79.9,-77.8,-78.9,-77.3,-78.1,-79.7,-77.7,-78.9,-79.9,-77.6,-79.3,-78.5,-77.4,-79.7,
-79.8,-78.2,-78.6,-80.3,-77.9,-79.4,-78.1,-79.8,-78.6,-80.2,-77.8,-79.8,-79.2,-78.1,-80.1,-78.6,-77.8,-80.4,-79.0,-79.7,
-79.4,-78.1,-80.5,-78.5,-79.8,-77.8,-79.3,-80.2,-78.7,-78.3,-80.4,-78.9,-78.4,-80.1,-78.1,-79.7,-80.6,-78.6,-79.5,-78.1,
-78.8,-80.3,-78.0,-79.9,-79.4,-78.4,-80.7,-78.9,-80.1,-78.3,-80.1,-78.2,-79.8,-80.5,-78.8,-79.2,-80.3,-78.1,-80.9,-79.3,
-78.5,-79.9,-79.1,-80.7,-78.0,-80.2,-79.0,-79.6,-80.4,-78.7,-79.9,-78.4,-80.7,-79.0,-80.3,-78.5,-79.7,-80.6,-78.9,-80.0];
const cyanB = [-55.8,-58.0,-61.1,-61.5,-63.4,-63.5,-65.8,-65.5,-67.0,-66.2,-67.9,-67.8,-69.7,-68.7,-70.0,-69.9,-71.4,-70.2,-71.6,-70.7,
-73.0,-71.8,-72.9,-72.4,-73.6,-72.3,-73.6,-73.2,-74.7,-73.2,-74.2,-73.2,-74.9,-74.1,-75.8,-74.2,-74.9,-74.1,-75.9,-74.8,
-75.7,-74.7,-76.8,-75.4,-76.0,-74.8,-76.5,-75.6,-77.0,-75.6,-76.3,-75.5,-77.1,-76.1,-76.9,-75.7,-77.7,-76.2,-76.9,-76.1,
-77.6,-76.6,-77.3,-76.1,-78.1,-76.9,-77.4,-76.5,-77.8,-77.2,-78.2,-76.9,-77.6,-76.7,-78.2,-77.3,-78.6,-77.3,-77.8,-77.2,
-78.3,-76.9,-78.2,-77.7,-78.8,-77.5,-78.2,-77.4,-79.2,-77.9,-78.6,-77.4,-78.9,-78.2,-78.6,-77.8,-79.3,-78.0,-78.6,-77.6,
-79.0,-78.3,-79.2,-78.1,-78.7,-77.9,-79.6,-78.3,-79.1,-78.1,-79.0,-77.9,-79.3,-78.6,-79.7,-78.4,-79.0,-78.3,-79.6,-78.8,
-79.3,-78.0,-79.2,-78.6,-79.8,-78.8,-79.5,-78.3,-79.1,-78.5,-80.1,-78.8,-79.5,-78.3,-79.7,-79.0,-79.3,-78.6,-80.1,-78.8,
-79.5,-78.5,-79.7,-79.0,-80.0,-78.7,-79.4,-78.4,-79.9,-79.0,-79.7,-78.7,-80.3,-79.1,-79.6,-78.5,-80.0,-79.2,-79.5,-78.8,
-80.2,-79.0,-79.7,-78.7,-79.9,-79.2,-80.3,-78.8,-79.5,-79.1,-80.0,-78.5,-79.8,-79.3,-80.1,-78.9,-79.6,-78.6,-80.4,-79.1,
-79.7,-78.8,-79.9,-79.2,-80.3,-79.1,-79.6,-78.8,-80.1,-79.4,-79.9,-78.6,-79.7,-79.2,-80.4,-79.0,-79.8,-78.9,-80.2,-79.3,-79.6];
const cyanB2 = [-56.0,-60.1,-60.2,-62.7,-64.7,-63.5,-65.8,-64.8,-67.8,-67.0,-68.7,-67.3,-70.3,-69.0,-70.0,-71.2,-69.3,-71.6,-70.7,-73.1,
-70.9,-72.6,-73.6,-71.8,-73.7,-72.9,-74.7,-72.3,-73.9,-74.6,-73.4,-75.4,-74.1,-73.2,-76.1,-74.8,-74.0,-76.0,-74.6,-75.9,
-76.4,-74.4,-75.9,-75.4,-77.1,-74.5,-76.6,-75.4,-77.3,-75.4,-75.8,-77.3,-75.3,-76.9,-76.6,-75.7,-77.9,-76.2,-77.6,-75.7,
-77.4,-76.4,-78.2,-75.7,-77.4,-78.2,-76.4,-77.4,-76.3,-78.8,-76.3,-78.2,-77.1,-78.7,-76.9,-77.9,-78.6,-76.5,-78.2,-77.6,
-78.9,-77.5,-77.0,-78.6,-79.4,-77.0,-78.3,-77.6,-79.1,-77.4,-77.7,-79.4,-78.1,-77.2,-79.1,-78.8,-77.1,-79.7,-77.9,-78.6,
-79.4,-77.7,-78.9,-79.8,-77.4,-79.2,-78.2,-79.7,-78.6,-77.8,-78.4,-80.1,-77.8,-79.3,-78.2,-79.9,-79.0,-77.6,-79.7,-78.8,
-79.9,-78.2,-78.8,-80.3,-78.1,-79.4,-79.8,-77.9,-79.2,-78.5,-78.3,-79.6,-80.3,-78.7,-78.0,-80.0,-79.0,-80.6,-78.5,-79.5,
-79.8,-78.0,-80.1,-79.0,-80.5,-78.5,-78.9,-80.3,-78.3,-79.7,-78.4,-80.4,-79.0,-79.9,-78.0,-80.6,-79.4,-78.7,-80.1,-79.1,
-80.6,-78.9,-78.5,-79.8,-80.3,-78.3,-80.8,-79.1,-79.6,-78.6,-79.0,-80.1,-78.2,-80.9,-79.3,-78.6,-80.4,-79.7,-78.1,-80.0,
-79.7,-78.4,-80.8,-78.9,-80.1,-79.3,-78.4,-80.7,-79.0,-80.4,-78.3,-80.3,-79.4,-80.6,-78.8,-79.9,-80.8,-78.6,-79.7,-79.0];
const cyanB3 = [-58.2,-59.0,-62.7,-62.5,-62.8,-65.7,-65.0,-67.7,-66.7,-66.6,-69.4,-68.0,-69.5,-68.3,-71.0,-70.1,-72.2,-70.2,-71.6,-71.3,
-72.7,-70.9,-73.6,-72.9,-72.1,-74.6,-72.7,-74.0,-72.7,-75.1,-73.8,-75.1,-73.2,-75.7,-74.1,-75.3,-73.6,-76.4,-75.0,-75.6,
-74.4,-76.4,-75.8,-74.3,-76.9,-75.4,-76.6,-75.1,-77.6,-75.9,-77.0,-75.0,-77.6,-76.1,-75.5,-77.5,-76.5,-78.0,-76.1,-77.0,
-75.7,-77.3,-78.0,-76.4,-78.5,-76.2,-77.3,-76.8,-78.1,-76.1,-77.8,-76.6,-78.7,-77.3,-76.4,-78.5,-77.9,-76.7,-78.9,-77.3,
-77.2,-79.1,-77.7,-77.0,-78.7,-79.3,-77.3,-78.5,-77.0,-79.1,-79.2,-77.8,-77.4,-79.7,-78.0,-79.0,-77.2,-79.2,-78.6,-77.5,
-78.1,-79.8,-77.5,-79.1,-79.5,-77.9,-78.8,-77.4,-79.9,-78.6,-79.4,-77.7,-80.0,-78.5,-78.0,-80.3,-78.3,-79.2,-77.8,-79.8,
-77.9,-79.5,-80.0,-78.1,-79.3,-78.6,-80.3,-78.3,-78.8,-80.2,-79.5,-77.9,-79.9,-79.2,-78.5,-80.5,-78.2,-79.8,-78.9,-80.2,
-78.5,-80.1,-77.9,-80.4,-79.1,-79.7,-78.4,-80.5,-78.9,-79.5,-80.4,-78.8,-79.5,-78.2,-80.6,-78.5,-79.9,-79.1,-78.1,-80.2,
-79.1,-80.6,-78.6,-79.8,-78.4,-80.4,-79.2,-80.9,-78.8,-79.5,-80.3,-78.5,-79.7,-78.2,-80.5,-79.0,-80.0,-80.7,-78.6,-79.3,
-78.3,-80.2,-79.2,-80.6,-78.8,-79.6,-80.9,-78.6,-80.0,-79.1,-80.1,-78.5,-80.6,-79.2,-79.8,-78.3,-80.4,-79.0,-80.8,-78.7];
// fitted curves, panel b
const grayFitBT = [0,20,40,60,80,100,150,200,250,300,350,400,450,500,600,700,800,900,1000,1100,1200,1300,1400,1500,1600,1800,2000];
const grayFitBV = [-55.6,-58.5,-60.2,-61.4,-62.4,-63.2,-64.9,-66.4,-67.8,-69.0,-70.0,-70.9,-71.7,-72.5,-73.7,-74.7,-75.5,-76.2,-76.8,-77.3,-77.7,-78.1,-78.4,-78.6,-78.8,-79.1,-79.3];
const purpleFitBT = [0,20,40,60,80,100,150,200,250,300,350,400,450,500,600,700,800,900,1000,1100,1200,1300,1400,1600,1800,2000];
const purpleFitBV = [-55.6,-59.2,-61.3,-62.8,-64.0,-65.0,-67.0,-68.6,-69.9,-71.0,-71.9,-72.7,-73.4,-74.0,-75.0,-75.9,-76.6,-77.2,-77.7,-78.1,-78.4,-78.7,-78.9,-79.1,-79.3,-79.4];
const redFitBT = [0,20,40,60,80,100,150,200,250,300,350,400,450,500,600,700,800,900,1000,1100,1200,1400,1600,1800,2000];
const redFitBV = [-55.6,-59.8,-62.2,-63.8,-65.1,-66.2,-68.3,-69.9,-71.3,-72.4,-73.3,-74.0,-74.6,-75.1,-76.0,-76.7,-77.3,-77.8,-78.2,-78.5,-78.8,-79.1,-79.3,-79.4,-79.5];
const cyanFitBT = [0,10,20,30,40,50,60,80,100,130,160,200,250,300,350,400,450,500,600,700,800,900,1000,1200,1400,1600,2000];
const cyanFitBV = [-55.6,-58.5,-60.4,-61.9,-63.1,-64.1,-65.0,-66.5,-67.7,-69.2,-70.5,-71.8,-73.0,-73.9,-74.6,-75.2,-75.7,-76.1,-76.8,-77.3,-77.8,-78.2,-78.5,-78.9,-79.2,-79.35,-79.5];

// ---------- legends and ticks ----------
const legendLabelsA = ["I-domain alone","1:100","1:50","1:25"];
const legendTauA = ["238.6","51.4","29.2","15.9"];
const legendLabelsB = ["Coat protein alone","1:100","1:50","1:25"];
const legendTau1B = ["561.0","438.0","376.8","367.5"];
const legendTau2B = ["79.1","68.7","65.2","61.3"];
const xTicksA = [0,200,400,600,800];
const yTicksA = [-30,-20,-10];
const xMajA = [0,200,400,600,800];
const xMinA = [50,100,150,250,300,350,450,500,550,650,700,750,850];
const yMajA = [-30,-25,-20,-15,-10];
const yMinA = [-34,-33,-32,-31,-29,-28,-27,-26,-24,-23,-22,-21,-19,-18,-17,-16,-14,-13,-12,-11,-9,-8,-7,-6];
const xTicksB = [0,500,1000,1500,2000];
const yTicksB = [-80,-70,-60,-50];
const xMajB = [500,1000,1500];
const xMinB = [100,200,300,400,600,700,800,900,1100,1200,1300,1400,1600,1700,1800,1900];
const yMajB = [-80,-75,-70,-65,-60,-55];
const yMinB = [-84,-83,-82,-81,-79,-78,-77,-76,-74,-73,-72,-71,-69,-68,-67,-66,-64,-63,-62,-61,-59,-58,-57,-56,-54,-53,-52,-51];

// ---------- styles ----------
const FONT = "Arial, 'Liberation Sans', Helvetica, sans-serif";
const PT = ["#5a5a5a","#9a2fd6","#d40000","#1ea8e2"];
const PTB = ["#7a7a7a","#9f45dc","#d81414","#2eb0e8"];
const LN = ["#4f4f4f","#9a2fd6","#d40000","#1ea8e2"];
const TXT = ["#666666","#9a32d0","#cc0000","#1ba3e0"];

const zip = (ts, vs) => ts.map((t, i) => ({t, v: vs[i]})).filter(d => d.v !== undefined);

function ticks(P, xMaj, xMin, yMaj, yMin) {
  const s = {stroke: "#000", strokeWidth: 1.6};
  return [
    Plot.ruleX(xMaj, {x: d => d, insetTop: P.ih - 8, ...s}),
    Plot.ruleX(xMaj, {x: d => d, insetBottom: P.ih - 8, ...s}),
    Plot.ruleX(xMin, {x: d => d, insetTop: P.ih - 5, ...s}),
    Plot.ruleX(xMin, {x: d => d, insetBottom: P.ih - 5, ...s}),
    Plot.ruleY(yMaj, {y: d => d, insetRight: P.iw - 8, ...s}),
    Plot.ruleY(yMaj, {y: d => d, insetLeft: P.iw - 8, ...s}),
    Plot.ruleY(yMin, {y: d => d, insetRight: P.iw - 5, ...s}),
    Plot.ruleY(yMin, {y: d => d, insetLeft: P.iw - 5, ...s})
  ];
}
function label(P, str, x, y, o) {
  return Plot.text([str], {text: d => d, frameAnchor: "top-left", dx: x - P.ml, dy: y - P.mt,
    lineAnchor: "bottom", textAnchor: "middle", fontFamily: FONT, ...o});
}
function yTitle(svg, cx, cy, sub) {
  const t = d3.select(svg).append("text")
    .attr("transform", `translate(${cx},${cy}) rotate(-90)`)
    .attr("text-anchor", "middle").attr("font-family", FONT)
    .attr("font-size", 29).attr("fill", "#000");
  t.append("tspan").text("θ");
  t.append("tspan").attr("font-size", 19).attr("dy", 7).text(sub);
  t.append("tspan").attr("dy", -7).text(" (mdeg)");
}
function tauSub(svg, cx, base, sub) {
  const t = d3.select(svg).append("text").attr("x", cx).attr("y", base)
    .attr("text-anchor", "middle").attr("font-family", FONT)
    .attr("font-size", 27).attr("fill", "#000");
  t.append("tspan").text("τ");
  t.append("tspan").attr("font-size", 17).attr("font-weight", "bold").attr("dy", 7).text(sub);
  t.append("tspan").attr("dy", -7).text(" (s)");
}

// ---------- panel a ----------
const A = {w: 600, h: 575, ml: 86, mr: 27, mt: 9, mb: 78};
A.iw = A.w - A.ml - A.mr; A.ih = A.h - A.mt - A.mb;
const seriesA = [
  [[[tA, grayA], [tA2, grayA2]], grayFitAT, grayFitAV],
  [[[tA, purpleA], [tA2, purpleA2]], purpleFitAT, purpleFitAV],
  [[[tA, redA], [tA2, redA2]], redFitAT, redFitAV],
  [[[tA, cyanA], [tA2, cyanA2]], cyanFitAT, cyanFitAV]
];
const marksA = [];
seriesA.forEach(([sets, ft, fv], i) => {
  const pts = sets.flatMap(([t, v]) => zip(t, v));
  marksA.push(Plot.dot(pts, {x: "t", y: "v", r: 2.3, fill: PT[i], clip: true}));
  marksA.push(Plot.line(zip(ft, fv), {x: "t", y: "v", stroke: LN[i], strokeWidth: 3, curve: "monotone-x", clip: true}));
});
marksA.push(Plot.frame({stroke: "#000", strokeWidth: 2}));
marksA.push(...ticks(A, xMajA, xMinA, yMajA, yMinA));
marksA.push(Plot.axisX({ticks: xTicksA, tickSize: 0, tickPadding: 13, fontSize: 21, tickFormat: d => String(d), fontFamily: FONT}));
marksA.push(Plot.axisY({ticks: yTicksA, tickSize: 0, tickPadding: 12, fontSize: 17, fontWeight: "bold", tickFormat: d => String(d), fontFamily: FONT}));
marksA.push(Plot.text(["Time (s)"], {text: d => d, frameAnchor: "bottom", dx: -4, dy: 66, lineAnchor: "bottom", fontSize: 28, fontFamily: FONT}));
marksA.push(label(A, "a", 15, 30, {textAnchor: "start", fontSize: 29, fontWeight: "bold"}));
marksA.push(label(A, "I-domain:CyPA", 370, 330, {fontSize: 27}));
marksA.push(label(A, "τ (s)", 511, 330, {fontSize: 27}));
legendLabelsA.forEach((s, i) => {
  marksA.push(label(A, s, 367, 365 + i * 31.5, {fontSize: 25, fill: TXT[i]}));
  marksA.push(label(A, legendTauA[i], 510, 365 + i * 31.5, {fontSize: 25, fill: TXT[i]}));
});
const svgA = Plot.plot({
  width: A.w, height: A.h, marginLeft: A.ml, marginRight: A.mr, marginTop: A.mt, marginBottom: A.mb,
  style: {fontFamily: FONT, background: "#fff", color: "#000"},
  x: {domain: [0, 900], label: null},
  y: {domain: [-35, -5], label: null},
  marks: marksA
});
yTitle(svgA, 27, 265, "220");

// ---------- panel b ----------
const B = {w: 600, h: 593, ml: 82, mr: 30, mt: 28, mb: 77};
B.iw = B.w - B.ml - B.mr; B.ih = B.h - B.mt - B.mb;
const seriesB = [
  [[[tB, grayB], [tB2, grayB2], [tB3, grayB3]], grayFitBT, grayFitBV],
  [[[tB, purpleB], [tB2, purpleB2], [tB3, purpleB3]], purpleFitBT, purpleFitBV],
  [[[tB, redB], [tB2, redB2], [tB3, redB3]], redFitBT, redFitBV],
  [[[tB, cyanB], [tB2, cyanB2], [tB3, cyanB3]], cyanFitBT, cyanFitBV]
];
const marksB = [];
seriesB.forEach(([sets, ft, fv], i) => {
  const pts = sets.flatMap(([t, v]) => zip(t, v));
  marksB.push(Plot.dot(pts, {x: "t", y: "v", r: 1.7, fill: PTB[i], clip: true}));
  marksB.push(Plot.line(zip(ft, fv), {x: "t", y: "v", stroke: LN[i], strokeWidth: 2.6, curve: "monotone-x", clip: true}));
});
marksB.push(Plot.frame({stroke: "#000", strokeWidth: 2}));
marksB.push(...ticks(B, xMajB, xMinB, yMajB, yMinB));
marksB.push(Plot.axisX({ticks: xTicksB, tickSize: 0, tickPadding: 12, fontSize: 21, tickFormat: d => String(d), fontFamily: FONT}));
marksB.push(Plot.axisY({ticks: yTicksB, tickSize: 0, tickPadding: 6, fontSize: 17, fontWeight: "bold", tickFormat: d => String(d), fontFamily: FONT}));
marksB.push(Plot.text(["Time (s)"], {text: d => d, frameAnchor: "bottom", dy: 66, lineAnchor: "bottom", fontSize: 28, fontFamily: FONT}));
marksB.push(label(B, "b", 9, 51, {textAnchor: "start", fontSize: 29, fontWeight: "bold"}));
marksB.push(label(B, "Coat protein:CyPA", 271, 78, {fontSize: 27}));
legendLabelsB.forEach((s, i) => {
  const y = 117 + i * 31.2;
  marksB.push(label(B, s, 271, y, {fontSize: 25, fill: TXT[i]}));
  marksB.push(label(B, legendTau1B[i], 430, y, {fontSize: 25, fill: TXT[i]}));
  marksB.push(label(B, legendTau2B[i], 509, y, {fontSize: 25, fill: TXT[i]}));
});
const svgB = Plot.plot({
  width: B.w, height: B.h, marginLeft: B.ml, marginRight: B.mr, marginTop: B.mt, marginBottom: B.mb,
  style: {fontFamily: FONT, background: "#fff", color: "#000"},
  x: {domain: [0, 2000], label: null},
  y: {domain: [-85, -50], label: null},
  marks: marksB
});
yTitle(svgB, 27, 280, "222");
tauSub(svgB, 430, 78, "1");
tauSub(svgB, 512, 78, "2");

const wrap = document.getElementById("wrap");
wrap.appendChild(svgA);
wrap.appendChild(svgB);
</script>
</body></html>
